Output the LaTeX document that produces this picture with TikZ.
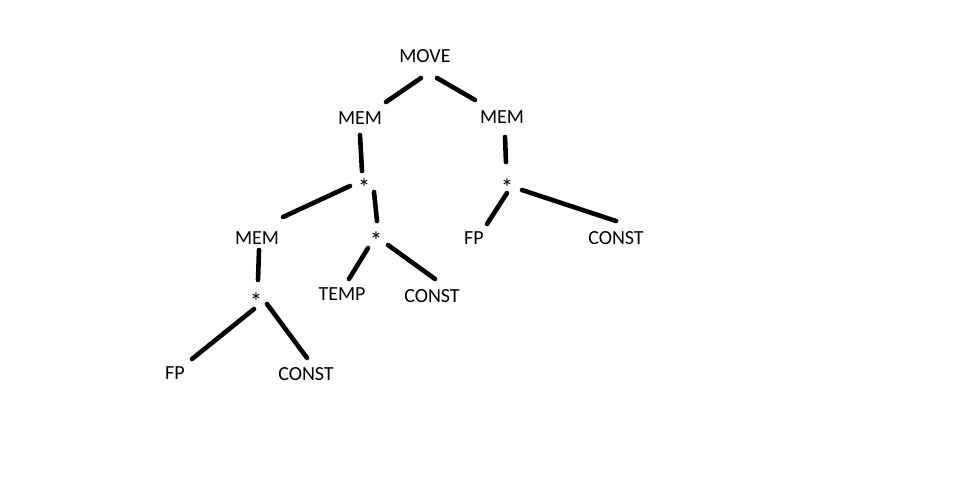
\documentclass[tikz,border=0pt]{standalone}
\usepackage{fontspec}
\setmainfont{Carlito}
\begin{document}
\begin{tikzpicture}[x=1pt,y=-1pt,
  lbl/.style={inner sep=0pt, font=\fontsize{20}{24}\selectfont},
  star/.style={inner sep=0pt, font=\fontsize{25}{30}\selectfont},
  edge/.style={line width=4.6pt, line cap=round, black}]
\fill[white] (0,0) rectangle (959,484);
\useasboundingbox (0,0) rectangle (959,484);
\node[lbl] (move) at (425,56) {MOVE};
\node[lbl] (meml) at (360,118) {MEM};
\node[lbl] (memr) at (502,117) {MEM};
\node[star] (s1) at (364,188) {*};
\node[star] (sr) at (507,188) {*};
\node[lbl] (meml2) at (257,238) {MEM};
\node[star] (s2) at (376,241) {*};
\node[star] (s3) at (256,302) {*};
\node[lbl] (temp) at (342,294) {TEMP};
\node[lbl] (constm) at (432,296) {CONST};
\node[lbl] (fpr) at (474,238) {FP};
\node[lbl] (constr) at (616,238) {CONST};
\node[lbl] (fpl) at (175,373) {FP};
\node[lbl] (constl) at (306,374) {CONST};
\draw[edge] ([shift={(-4,22)}]move.center) -- ([shift={(26,-16)}]meml.center);
\draw[edge] ([shift={(12,22)}]move.center) -- ([shift={(-27,-17)}]memr.center);
\draw[edge] ([shift={(0,17)}]meml.center) -- ([shift={(-2,-17)}]s1.center);
\draw[edge] ([shift={(3,20)}]memr.center) -- ([shift={(-1,-26)}]sr.center);
\draw[edge] ([shift={(-14,-2)}]s1.center) -- ([shift={(26,-21)}]meml2.center);
\draw[edge] ([shift={(10,4)}]s1.center) -- ([shift={(1,-20)}]s2.center);
\draw[edge] ([shift={(2,12)}]meml2.center) -- ([shift={(2,-22)}]s3.center);
\draw[edge] ([shift={(-8,7)}]s2.center) -- ([shift={(7,-15)}]temp.center);
\draw[edge] ([shift={(12,4)}]s2.center) -- ([shift={(3,-17)}]constm.center);
\draw[edge] ([shift={(0,5)}]sr.center) -- ([shift={(13,-14)}]fpr.center);
\draw[edge] ([shift={(15,2)}]sr.center) -- ([shift={(0,-17)}]constr.center);
\draw[edge] ([shift={(-2,7)}]s3.center) -- ([shift={(17,-14)}]fpl.center);
\draw[edge] ([shift={(11,2)}]s3.center) -- ([shift={(1,-16)}]constl.center);
\end{tikzpicture}
\end{document}
